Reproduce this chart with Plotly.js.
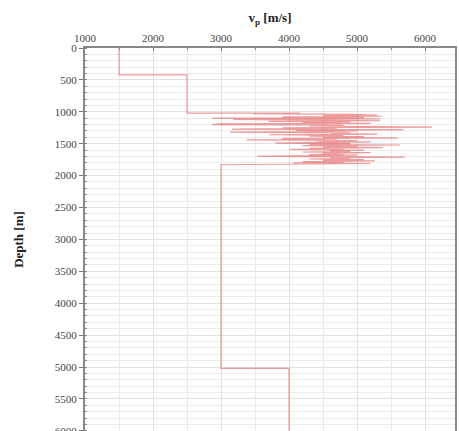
<!DOCTYPE html>
<html>
<head>
<meta charset="utf-8">
<script src="https://cdn.plot.ly/plotly-3.0.1.min.js"></script>
<style>html,body{margin:0;padding:0;background:#fff;}#chart{width:459px;height:431px;}</style>
</head>
<body>
<div id="chart"></div>
<script>
// Velocity profile (m/s) versus depth (m)
const depthTop = [0, 420, 420, 1020];
const vpTop = [1500, 1500, 2500, 2500];

const depthNoise = [1020,1030,1040,1050,1060,1070,1080,1090,1100,1110,1120,1130,1140,1150,1160,1170,1180,1190,1200,1210,1220,1230,1240,1250,1260,1270,1280,1290,1300,1310,1320,1330,1340,1350,1360,1370,1380,1390,1400,1410,1420,1430,1440,1450,1460,1470,1480,1490,1500,1510,1520,1530,1540,1550,1560,1570,1580,1590,1600,1610,1620,1630,1640,1650,1660,1670,1680,1690,1700,1710,1720,1730,1740,1750,1760,1770,1780,1790,1800,1810,1820];
const vpNoise = [4160,3470,4900,5300,4500,5370,3900,5100,2870,5340,3180,4700,5340,3700,4900,4200,5200,3000,2870,4800,4300,5100,6100,3900,4700,3160,5680,4100,5000,4400,3130,4900,4600,5300,3700,4800,4300,5100,4500,5600,3900,4700,3380,5000,4400,5200,4600,3800,4900,4300,5630,4200,5000,4500,5380,4300,4800,4010,5100,4600,4900,4200,5200,4500,4800,4300,5000,4400,3540,5700,4600,4900,4300,5100,4500,5260,4200,4800,4060,5200,4400];

const depthBottom = [1830, 5020, 5020, 6000];
const vpBottom = [3000, 3000, 4000, 4000];

const xTicks = [1000, 2000, 3000, 4000, 5000, 6000];
const yTicks = [0, 500, 1000, 1500, 2000, 2500, 3000, 3500, 4000, 4500, 5000, 5500, 6000];

const depth = depthTop.concat(depthNoise, depthBottom);
const vp = vpTop.concat(vpNoise, vpBottom);

const serif = "Liberation Serif, Times New Roman, serif";

const trace = {
  x: vp, y: depth, type: 'scatter', mode: 'lines',
  line: {color: 'rgba(220,55,55,0.5)', width: 1.2},
  hoverinfo: 'skip'
};

const layout = {
  width: 459, height: 431,
  margin: {l: 85, r: 4, t: 48, b: 0},
  paper_bgcolor: '#fff', plot_bgcolor: '#fff',
  showlegend: false,
  xaxis: {
    side: 'top', range: [1000, 6440],
    tickvals: xTicks, ticktext: xTicks.map(String),
    tickfont: {family: serif, size: 11, color: '#444'},
    ticks: 'inside', ticklen: 3, tickcolor: '#777',
    ticklabeloverflow: 'allow',
    showgrid: true, gridcolor: '#e2e2e2', gridwidth: 1,
    minor: {dtick: 500, showgrid: true, gridcolor: '#e8e8e8', ticks: 'inside', ticklen: 2, tickcolor: '#888'},
    showline: true, linecolor: '#888', linewidth: 2, mirror: true,
    zeroline: false,
    title: {text: '<b>v<sub>p</sub> [m/s]</b>', font: {family: serif, size: 13, color: '#222'}, standoff: 6}
  },
  yaxis: {
    range: [6003, 0],
    tickvals: yTicks, ticktext: yTicks.map(String),
    tickfont: {family: serif, size: 11, color: '#444'},
    ticks: 'outside', ticklen: 4, tickcolor: '#777',
    ticklabeloverflow: 'allow',
    showgrid: true, gridcolor: '#e2e2e2', gridwidth: 1,
    minor: {dtick: 100, showgrid: true, gridcolor: '#ececec', ticks: 'inside', ticklen: 2, tickcolor: '#888'},
    showline: true, linecolor: '#888', linewidth: 2, mirror: true,
    zeroline: false,
    title: {text: '<b>Depth [m]</b>', font: {family: serif, size: 13, color: '#222'}, standoff: 28}
  }
};

Plotly.newPlot('chart', [trace], layout, {displayModeBar: false, staticPlot: true});
</script>
</body>
</html>
